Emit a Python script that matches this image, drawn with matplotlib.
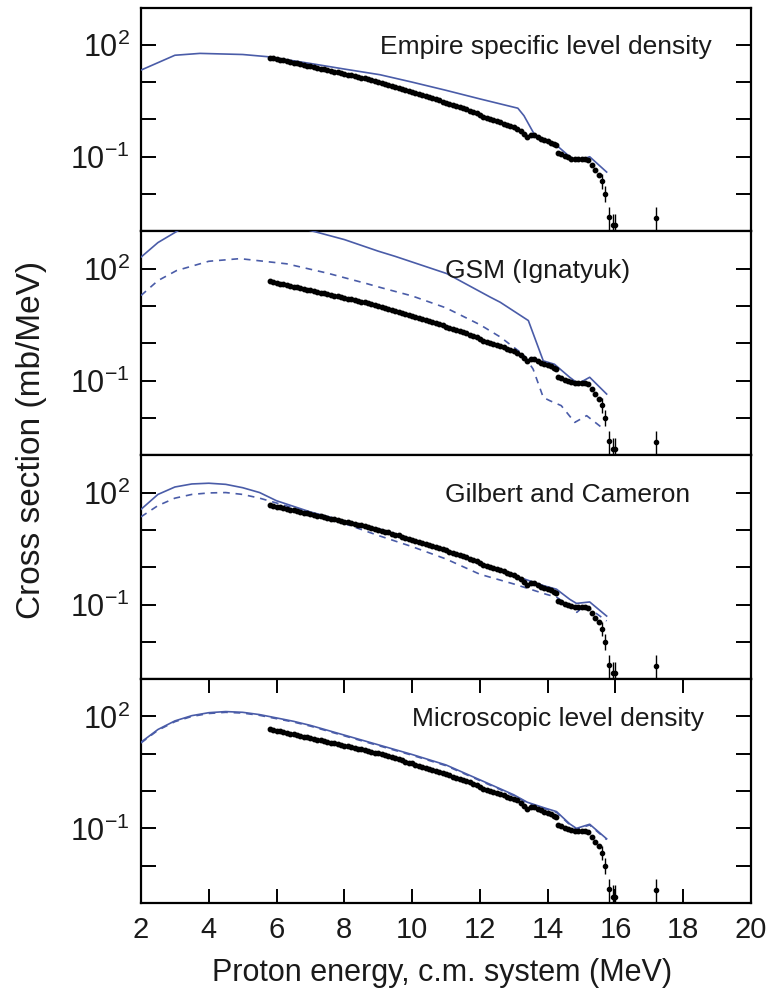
import numpy as np
import matplotlib
matplotlib.use("Agg")
import matplotlib.pyplot as plt

plt.rcParams['font.family'] = ['Liberation Sans', 'DejaVu Sans']
plt.rcParams['mathtext.fontset'] = 'custom'
plt.rcParams['mathtext.rm'] = 'Liberation Sans'
plt.rcParams['mathtext.it'] = 'Liberation Sans'
plt.rcParams['mathtext.default'] = 'regular'

# ---------------- experimental data (mb/MeV) ----------------
exp_E = [5.8, 5.9, 6.0, 6.1, 6.2, 6.3, 6.4, 6.5, 6.6, 6.7, 6.8, 6.9, 7.0, 7.1, 7.2,
         7.3, 7.4, 7.5, 7.6, 7.7, 7.8, 7.9, 8.0, 8.1, 8.2, 8.3, 8.4, 8.5, 8.6, 8.7,
         8.8, 8.9, 9.0, 9.1, 9.2, 9.3, 9.4, 9.5, 9.6, 9.7, 9.8, 9.9, 10.0, 10.1, 10.2,
         10.3, 10.4, 10.5, 10.6, 10.7, 10.8, 10.9, 11.0, 11.1, 11.2, 11.3, 11.4, 11.5,
         11.6, 11.7, 11.8, 11.9, 12.0, 12.1, 12.2, 12.3, 12.4, 12.5, 12.6, 12.7, 12.8,
         12.9, 13.0, 13.1, 13.2, 13.3, 13.4, 13.5, 13.6, 13.7, 13.8, 13.9, 14.0, 14.1,
         14.2, 14.25, 14.3, 14.4, 14.5, 14.6, 14.7, 14.8, 14.9, 15.0, 15.1, 15.2, 15.3,
         15.4, 15.5]
exp_Y = [45.7, 43.7, 41.7, 39.8, 38.0, 36.7, 34.7, 33.1, 31.6, 30.2, 28.8, 27.5, 26.3,
         25.1, 24.0, 22.9, 21.9, 20.9, 20.0, 19.1, 18.2, 17.4, 16.6, 15.8, 15.1, 14.5,
         13.8, 13.2, 12.6, 12.0, 11.2, 10.7, 10.2, 9.55, 9.02, 8.51, 7.94, 7.50, 7.08,
         6.61, 6.17, 5.82, 5.50, 5.13, 4.79, 4.52, 4.27, 3.98, 3.76, 3.51, 3.24, 3.02,
         2.82, 2.63, 2.45, 2.29, 2.09, 2.00, 1.91, 1.70, 1.58, 1.45, 1.32, 1.17, 1.07,
         1.02, 0.955, 0.891, 0.832, 0.776, 0.708, 0.661, 0.617, 0.562, 0.479, 0.398,
         0.339, 0.372, 0.372, 0.331, 0.302, 0.282, 0.263, 0.240, 0.219, 0.204, 0.126,
         0.115, 0.105, 0.0955, 0.0891, 0.0871, 0.0851, 0.0871, 0.0851, 0.0813, 0.0603,
         0.0437, 0.0331]
# tail points with error bars
tail_E = [15.6, 15.7, 15.81, 15.92, 16.0, 17.2]
tail_Y = [0.0219, 0.0100, 0.0024, 0.00145, 0.00145, 0.00229]
tail_lo = [0.0080, 0.0040, 0.0019, 0.00120, 0.00120, 0.00200]
tail_hi = [0.0120, 0.0060, 0.0021, 0.00150, 0.00150, 0.00220]

# ---------------- calculations ----------------
# Panel 1: Empire specific level density
emp_E = [2.0, 3.0, 3.74, 5.0, 5.75, 7.0, 8.0, 9.05, 10.0, 11.0, 12.0, 13.12, 13.3,
         13.62, 14.26, 14.6, 14.85, 15.24, 15.74]
emp_Y = [21.0, 52.5, 58.9, 55.0, 47.9, 31.6, 22.4, 15.8, 10.0, 6.03, 3.55, 2.0, 1.26,
         0.380, 0.204, 0.110, 0.0759, 0.100, 0.0389]

# Panel 2: GSM (Ignatyuk)
gsm_E = [2.0, 2.5, 3.15, 4.0, 5.0, 6.0, 7.18, 8.0, 9.0, 9.5, 10.0, 11.02, 12.3, 12.6,
         13.43, 13.87, 14.2, 14.65, 14.9, 15.24, 15.74]
gsm_Y = [204, 501, 1122, 1995, 2239, 1778, 955, 603, 295, 214, 151, 74.1, 17.4, 12.6,
         4.07, 0.339, 0.275, 0.123, 0.0832, 0.123, 0.0437]
gsm2_E = [2.0, 2.5, 3.05, 4.0, 4.92, 6.3, 7.5, 8.66, 9.05, 10.0, 11.0, 12.0, 12.6,
          13.28, 13.57, 13.87, 14.07, 14.4, 14.8, 15.15, 15.6]
gsm2_Y = [19.1, 47.9, 89.1, 158, 186, 135, 75.9, 39.8, 31.6, 18.6, 8.91, 3.16, 1.48,
          0.501, 0.204, 0.0355, 0.0288, 0.0214, 0.00759, 0.0115, 0.00550]

# Panel 3: Gilbert and Cameron
gc_E = [2.0, 2.5, 3.0, 3.5, 4.0, 4.5, 5.0, 5.5, 6.0, 7.0, 8.0, 9.05, 10.0, 11.0, 12.0,
        13.0, 13.9, 14.26, 14.65, 14.85, 15.24, 15.74]
gc_Y = [35.5, 89.1, 141, 170, 178, 166, 135, 100, 60.3, 30.2, 17.4, 10.5, 5.62, 2.82,
        1.20, 0.603, 0.316, 0.257, 0.138, 0.107, 0.117, 0.0490]
gc2_E = [2.0, 2.5, 3.0, 3.5, 4.0, 4.5, 5.0, 5.5, 6.0, 7.0, 8.0, 9.0, 10.0, 11.0, 12.0,
         13.0, 13.97, 14.26, 14.5, 14.86, 15.1, 15.74]
gc2_Y = [22.4, 44.7, 70.8, 89.1, 97.7, 100, 89.1, 70.8, 52.5, 28.2, 14.8, 7.08, 3.55,
         1.66, 0.646, 0.355, 0.186, 0.158, 0.112, 0.0617, 0.0955, 0.0363]

# Panel 4: Microscopic level density
mic_E = [2.0, 2.5, 3.0, 3.5, 4.0, 4.5, 5.0, 5.5, 6.0, 6.5, 7.0, 8.0, 9.0, 10.0, 11.0,
         12.0, 13.0, 13.4, 13.9, 14.26, 14.65, 14.85, 15.24, 15.74]
mic_Y = [20.4, 44.7, 75.9, 105, 126, 135, 129, 112, 91.2, 74.1, 57.5, 31.6, 17.4, 9.55,
         5.01, 2.0, 0.794, 0.501, 0.355, 0.282, 0.132, 0.100, 0.129, 0.0525]
mic2_E = [2.0, 2.5, 3.0, 3.5, 4.0, 4.5, 5.0, 5.5, 6.0, 6.5, 7.0, 8.0, 9.0, 10.0, 11.0,
          12.0, 13.0, 13.4, 13.9, 14.26, 14.65, 14.85, 15.24, 15.74]
mic2_Y = [19.5, 42.7, 72.4, 100, 120, 129, 123, 107, 87.1, 70.8, 55.0, 30.2, 16.6, 9.12,
          4.79, 1.91, 0.759, 0.479, 0.339, 0.269, 0.126, 0.0955, 0.123, 0.0501]

panel_titles = ["Empire specific level density", "GSM (Ignatyuk)",
                "Gilbert and Cameron", "Microscopic level density"]
title_x = [9.05, 10.97, 10.97, 10.0]

solid_curves = [(emp_E, emp_Y), (gsm_E, gsm_Y), (gc_E, gc_Y), (mic_E, mic_Y)]
dashed_curves = [None, (gsm2_E, gsm2_Y), (gc2_E, gc2_Y), (mic2_E, mic2_Y)]

x_ticks = [2, 4, 6, 8, 10, 12, 14, 16, 18, 20]
y_ticks = [1e-3, 1e-2, 1e-1, 1e0, 1e1, 1e2, 1e3]

BLUE = '#4a5ca8'

W, H = 773, 999
fig = plt.figure(figsize=(W / 100, H / 100), dpi=100)
left_px, right_px = 141, 751
top_px, bot_px = 7.5, 903
ph = (bot_px - top_px) / 4

for i in range(4):
    t = top_px + i * ph
    ax = fig.add_axes([left_px / W, 1 - (t + ph) / H, (right_px - left_px) / W, ph / H])
    ax.set_xlim(2, 20)
    ax.set_ylim(1e-3, 1e3)
    ax.set_yscale('log')
    for s in ax.spines.values():
        s.set_linewidth(1.6)
    ax.set_yticks(y_ticks)
    ax.set_yticklabels(['' if v not in (1e2, 1e-1) else
                        ('$10^{2}$' if v == 1e2 else '$10^{-1}$') for v in y_ticks])
    ax.yaxis.set_minor_locator(matplotlib.ticker.NullLocator())
    ax.tick_params(axis='y', which='major', direction='in', length=11, width=1.4,
                   labelsize=22, pad=8, right=True, left=True, labelcolor='#1a1a1a')
    ax.set_xticks(x_ticks)
    if i == 3:
        ax.tick_params(axis='x', direction='in', length=10, width=1.4, top=True,
                       bottom=True, labelsize=21, pad=9, labelcolor='#1a1a1a')
    else:
        ax.tick_params(axis='x', length=0, labelbottom=False)

    sE, sY = solid_curves[i]
    ax.plot(sE, sY, color=BLUE, lw=1.2, zorder=3)
    if dashed_curves[i] is not None:
        dE, dY = dashed_curves[i]
        ax.plot(dE, dY, color=BLUE, lw=1.2, ls=(0, (4, 3.5)), zorder=3)

    ax.plot(exp_E, exp_Y, 'o', color='black', ms=3.2, zorder=4)
    ax.errorbar(tail_E, tail_Y, yerr=[tail_lo, tail_hi], fmt='o', color='black',
                ms=3.0, elinewidth=1.0, capsize=0, zorder=4)

    ax.text(title_x[i], 1e2, panel_titles[i], fontsize=19, ha='left',
            va='center_baseline', color='#1a1a1a')

fig.text(32 / W, 1 - 440 / H, 'Cross section (mb/MeV)', rotation=90, fontsize=24,
         ha='center', va='center', color='#1a1a1a')
fig.text(442 / W, 1 - 973 / H, 'Proton energy, c.m. system (MeV)', fontsize=22,
         ha='center', va='center', color='#1a1a1a')

fig.savefig('out.png', dpi=100)
